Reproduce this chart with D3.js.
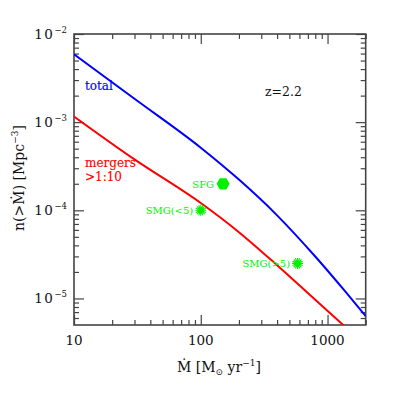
<!DOCTYPE html>
<html>
<head>
<meta charset="utf-8">
<script src="https://cdn.jsdelivr.net/npm/d3@7"></script>
<style>
  html, body { margin: 0; padding: 0; background: #fff; }
  svg { display: block; }
  text { font-family: "DejaVu Serif", serif; }
</style>
</head>
<body>
<svg id="chart" width="399" height="399"></svg>
<script>
// ---------- data ----------
const totalX = [10, 30, 100, 200, 400, 800, 1400, 2000];
const totalY = [5.89e-3, 1.84e-3, 5.13e-4, 2.23e-4, 8.77e-5, 2.99e-5, 1.17e-5, 6.3e-6];
const mergerX = [10, 30, 100, 200, 400, 800, 1600];
const mergerY = [1.16e-3, 3.78e-4, 1.21e-4, 5.65e-5, 2.38e-5, 9.66e-6, 3.93e-6];
const pointNames = ["SFG", "SMG(<5)", "SMG(>5)"];
const pointX = [150, 100, 580];
const pointY = [2.0e-4, 1.0e-4, 2.5e-5];
const pointShape = ["hex", "star", "star"];
const xTickValues = [10, 100, 1000];
const xTickLabels = ["10", "100", "1000"];
const yTickExps = [-2, -3, -4, -5];
const xDomain = [10, 2000];
const yDomain = [5e-6, 1e-2];

// ---------- layout ----------
const L = 74, R = 365.7, T = 34, B = 325;
const svg = d3.select("#chart");
const x = d3.scaleLog().domain(xDomain).range([L, R]);
const y = d3.scaleLog().domain(yDomain).range([B, T]);

const axisCol = "#444";
const green = "#00f000";

// minor tick values
const xMinor = [];
for (let k = 1; k <= 3; k++) for (let m = 2; m <= 9; m++) {
  const v = m * Math.pow(10, k);
  if (v > xDomain[0] && v <= xDomain[1]) xMinor.push(v);
}
const yMinor = [];
for (let k = -6; k <= -3; k++) for (let m = 2; m <= 9; m++) {
  const v = m * Math.pow(10, k);
  if (v >= yDomain[0] && v < yDomain[1]) yMinor.push(v);
}
const yMajor = yTickExps.map(e => Math.pow(10, e));

function styleAxis(g) {
  g.select(".domain").remove();
  g.selectAll("line").attr("stroke", axisCol).attr("stroke-width", 1.2);
  g.selectAll("text").remove();
}

// bottom
svg.append("g").attr("transform", `translate(0,${B})`)
  .call(d3.axisBottom(x).tickValues(xTickValues).tickSize(-10).tickFormat("")).call(styleAxis);
svg.append("g").attr("transform", `translate(0,${B})`)
  .call(d3.axisBottom(x).tickValues(xMinor).tickSize(-5).tickFormat("")).call(styleAxis);
// top
svg.append("g").attr("transform", `translate(0,${T})`)
  .call(d3.axisTop(x).tickValues(xTickValues).tickSize(-10).tickFormat("")).call(styleAxis);
svg.append("g").attr("transform", `translate(0,${T})`)
  .call(d3.axisTop(x).tickValues(xMinor).tickSize(-5).tickFormat("")).call(styleAxis);
// left
svg.append("g").attr("transform", `translate(${L},0)`)
  .call(d3.axisLeft(y).tickValues(yMajor).tickSize(-10).tickFormat("")).call(styleAxis);
svg.append("g").attr("transform", `translate(${L},0)`)
  .call(d3.axisLeft(y).tickValues(yMinor).tickSize(-5).tickFormat("")).call(styleAxis);
// right
svg.append("g").attr("transform", `translate(${R},0)`)
  .call(d3.axisRight(y).tickValues(yMajor).tickSize(-10).tickFormat("")).call(styleAxis);
svg.append("g").attr("transform", `translate(${R},0)`)
  .call(d3.axisRight(y).tickValues(yMinor).tickSize(-5).tickFormat("")).call(styleAxis);

// frame
svg.append("rect").attr("x", L).attr("y", T).attr("width", R - L).attr("height", B - T)
  .attr("fill", "none").attr("stroke", axisCol).attr("stroke-width", 1.6);

// x tick labels
svg.append("g").selectAll("text").data(xTickValues).join("text")
  .attr("x", d => x(d)).attr("y", B + 20)
  .attr("text-anchor", "middle").attr("font-size", 13.5).attr("fill", "#111")
  .text((d, i) => xTickLabels[i]);

// y tick labels (10^e)
const yl = svg.append("g").selectAll("text").data(yTickExps).join("text")
  .attr("x", L - 7).attr("y", d => y(Math.pow(10, d)) + 5)
  .attr("text-anchor", "end").attr("fill", "#111").attr("font-size", 13.5);
yl.append("tspan").attr("letter-spacing", 1.5).text("10");
yl.append("tspan").attr("font-size", 8.5).attr("dy", -6).text(d => "\u2212" + Math.abs(d));

// clip
svg.append("clipPath").attr("id", "clip").append("rect")
  .attr("x", L).attr("y", T).attr("width", R - L).attr("height", B - T);

const line = d3.line().x(d => x(d[0])).y(d => y(d[1])).curve(d3.curveMonotoneX);
const plot = svg.append("g").attr("clip-path", "url(#clip)");
plot.append("path").datum(totalX.map((v, i) => [v, totalY[i]]))
  .attr("d", line).attr("fill", "none").attr("stroke", "#0000ff").attr("stroke-width", 2);
plot.append("path").datum(mergerX.map((v, i) => [v, mergerY[i]]))
  .attr("d", line).attr("fill", "none").attr("stroke", "#ff0000").attr("stroke-width", 2);

// points
pointNames.forEach((name, i) => {
  const cx = x(pointX[i]), cy = y(pointY[i]);
  const g = svg.append("g").attr("transform", `translate(${cx},${cy})`);
  if (pointShape[i] === "hex") {
    const r = 6.5;
    const pts = d3.range(6).map(k => [r * Math.cos(k * Math.PI / 3), r * Math.sin(k * Math.PI / 3)]);
    g.append("polygon").attr("points", pts.map(p => p.join(",")).join(" ")).attr("fill", green);
  } else {
    const r = 5.5;
    let dpath = "";
    d3.range(16).forEach(k => {
      const a = k * Math.PI / 8;
      dpath += `M0,0L${r * Math.cos(a)},${r * Math.sin(a)}`;
    });
    g.append("path").attr("d", dpath).attr("stroke", green).attr("stroke-width", 1.1);
    g.append("circle").attr("r", 3).attr("fill", green);
  }
  svg.append("text").attr("x", cx - (pointShape[i] === "hex" ? 9 : 7.5)).attr("y", cy + 4)
    .attr("text-anchor", "end").attr("font-size", 10).attr("fill", green).text(name);
});

// curve labels
svg.append("text").attr("x", 85).attr("y", 90).attr("font-size", 12).attr("fill", "#0000ff")
  .attr("stroke", "#0000ff").attr("stroke-width", 0.15).text("total");
const mt = svg.append("text").attr("font-size", 12).attr("fill", "#ff0000")
  .attr("stroke", "#ff0000").attr("stroke-width", 0.15);
mt.append("tspan").attr("x", 85).attr("y", 167).text("mergers");
mt.append("tspan").attr("x", 85).attr("y", 181).text(">1:10");

svg.append("text").attr("x", 265).attr("y", 96).attr("font-size", 12.5).attr("fill", "#111").text("z=2.2");

// x title
const xt = svg.append("text").attr("x", 219).attr("y", 372).attr("text-anchor", "middle")
  .attr("font-size", 14).attr("fill", "#111");
xt.append("tspan").text("\u1E40  [M");
xt.append("tspan").attr("font-size", 9).attr("dy", 3).text("\u2299");
xt.append("tspan").attr("dy", -3).text(" yr");
xt.append("tspan").attr("font-size", 9).attr("dy", -6).text("\u22121");
xt.append("tspan").attr("dy", 6).text("]");

// y title
const yt = svg.append("text").attr("transform", "translate(24,178) rotate(-90)")
  .attr("text-anchor", "middle").attr("font-size", 14).attr("fill", "#111");
yt.append("tspan").text("n(>\u1E40)  [Mpc");
yt.append("tspan").attr("font-size", 9).attr("dy", -6).text("\u22123");
yt.append("tspan").attr("dy", 6).text("]");
</script>
</body>
</html>
